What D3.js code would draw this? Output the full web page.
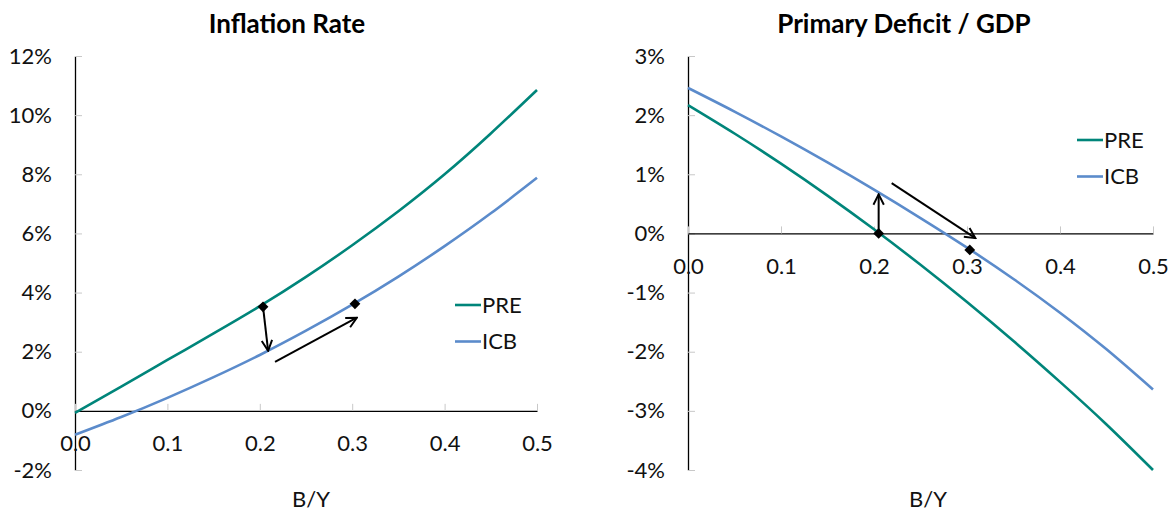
<!DOCTYPE html>
<html>
<head>
<meta charset="utf-8">
<script src="https://cdn.jsdelivr.net/npm/d3@7"></script>
<style>
  html, body { margin: 0; padding: 0; background: #fff; }
  svg { display: block; font-family: Lato, "Open Sans", sans-serif; }
</style>
</head>
<body>
<svg id="chart" width="1171" height="513"></svg>
<script>
// ---------- data ----------
const xValues = [0, 0.05, 0.1, 0.15, 0.2, 0.25, 0.3, 0.35, 0.4, 0.45, 0.5];
const seriesNames = ["PRE", "ICB"];
// Inflation rate (%)
const inflationPRE = [-0.07, 0.82, 1.72, 2.62, 3.54, 4.53, 5.6, 6.75, 8.0, 9.38, 10.85];
const inflationICB = [-0.81, -0.21, 0.44, 1.14, 1.89, 2.71, 3.59, 4.54, 5.57, 6.68, 7.88];
// Primary deficit / GDP (%)
const deficitPRE = [2.17, 1.69, 1.18, 0.64, 0.07, -0.53, -1.16, -1.82, -2.51, -3.23, -4.0];
const deficitICB = [2.46, 2.06, 1.64, 1.2, 0.74, 0.26, -0.24, -0.77, -1.34, -1.96, -2.64];
const xTicks = [0, 0.1, 0.2, 0.3, 0.4, 0.5];
const inflationTicks = [-2, 0, 2, 4, 6, 8, 10, 12];
const deficitTicks = [-4, -3, -2, -1, 0, 1, 2, 3];
// Markers [x, y]
const inflationMarkers = [[0.2035, 3.52], [0.303, 3.62]];
const deficitMarkers = [[0.205, 0.0], [0.303, -0.28]];
// Arrows [[x1,y1],[x2,y2]]
const inflationArrows = [[[0.2035, 3.52], [0.209, 2.03]], [[0.2165, 1.66], [0.305, 3.15]]];
const deficitArrows = [[[0.205, 0.0], [0.205, 0.66]], [[0.219, 0.85], [0.309, -0.08]]];
const titles = ["Inflation Rate", "Primary Deficit / GDP"];
const xLabel = "B/Y";

const colors = { PRE: "#00857A", ICB: "#5B8BCB" };

const svg = d3.select("#chart");

function drawPanel(cfg) {
  const x = d3.scaleLinear().domain([0, 0.5]).range([cfg.left, cfg.right]);
  const y = d3.scaleLinear().domain(cfg.yDomain).range([cfg.bottom, cfg.top]);
  const g = svg.append("g");

  // y axis
  const ya = g.append("g")
    .attr("transform", `translate(${cfg.left},0)`)
    .call(d3.axisLeft(y).tickValues(cfg.yTicks).tickSize(-7).tickSizeOuter(0)
      .tickPadding(23).tickFormat(d => `${d}%`));
  ya.select(".domain").attr("stroke", "#000").attr("stroke-width", 1.3);
  ya.selectAll(".tick line").attr("stroke", "#c8c8c8");
  ya.selectAll(".tick text").attr("font-size", 22).attr("fill", "#111")
    .attr("font-family", "Lato, sans-serif");

  // x axis at y=0
  const xa = g.append("g")
    .attr("transform", `translate(0,${y(0)})`)
    .call(d3.axisBottom(x).tickValues(xTicks).tickSize(-7).tickSizeOuter(0)
      .tickPadding(25).tickFormat(d3.format(".1f")));
  xa.select(".domain").attr("stroke", "#000").attr("stroke-width", 1.3);
  xa.selectAll(".tick line").attr("stroke", "#c8c8c8");
  xa.selectAll(".tick text").attr("font-size", 22).attr("fill", "#111")
    .attr("font-family", "Lato, sans-serif");

  // lines
  const line = d3.line().x((d, i) => x(xValues[i])).y(d => y(d)).curve(d3.curveNatural);
  cfg.series.forEach((s, k) => {
    g.append("path").attr("d", line(s)).attr("fill", "none")
      .attr("stroke", colors[seriesNames[k]]).attr("stroke-width", 2.6);
  });

  // arrows
  const defsId = "arrow" + cfg.id;
  svg.append("defs").append("marker")
    .attr("id", defsId).attr("viewBox", "0 0 10 10").attr("refX", 9).attr("refY", 5)
    .attr("markerWidth", 6.5).attr("markerHeight", 6.5).attr("orient", "auto")
    .attr("markerUnits", "strokeWidth")
    .append("path").attr("d", "M1,1 L9,5 L1,9").attr("fill", "none")
    .attr("stroke", "#000").attr("stroke-width", 1.5);
  cfg.arrows.forEach(a => {
    g.append("line")
      .attr("x1", x(a[0][0])).attr("y1", y(a[0][1]))
      .attr("x2", x(a[1][0])).attr("y2", y(a[1][1]))
      .attr("stroke", "#000").attr("stroke-width", 2)
      .attr("marker-end", `url(#${defsId})`);
  });

  // markers
  cfg.markers.forEach(m => {
    g.append("path").attr("d", d3.symbol(d3.symbolSquare, 58)())
      .attr("transform", `translate(${x(m[0])},${y(m[1])}) rotate(45)`)
      .attr("fill", "#000");
  });

  // legend
  seriesNames.forEach((n, k) => {
    const ly = cfg.legendY + k * 36.5;
    g.append("line").attr("x1", cfg.legendX).attr("x2", cfg.legendX + 26)
      .attr("y1", ly).attr("y2", ly).attr("stroke", colors[n]).attr("stroke-width", 2.6);
    g.append("text").attr("x", cfg.legendX + 27).attr("y", ly).attr("dy", "0.36em")
      .attr("font-size", 22).attr("fill", "#111").text(n);
  });

  // title
  g.append("text").attr("x", cfg.titleX).attr("y", 33).attr("text-anchor", "middle")
    .attr("font-size", 26).attr("font-weight", "bold").attr("fill", "#000").text(cfg.title);
  // x label
  g.append("text").attr("x", cfg.xLabelX).attr("y", 507).attr("text-anchor", "middle")
    .attr("font-size", 22).attr("fill", "#111").text(xLabel);
}

drawPanel({
  id: 1, left: 75, right: 537, top: 56, bottom: 470,
  yDomain: [-2, 12], yTicks: inflationTicks,
  series: [inflationPRE, inflationICB],
  markers: inflationMarkers, arrows: inflationArrows,
  legendX: 455, legendY: 305, title: titles[0], titleX: 287, xLabelX: 311
});
drawPanel({
  id: 2, left: 688, right: 1153, top: 56, bottom: 470,
  yDomain: [-4, 3], yTicks: deficitTicks,
  series: [deficitPRE, deficitICB],
  markers: deficitMarkers, arrows: deficitArrows,
  legendX: 1077, legendY: 140, title: titles[1], titleX: 904, xLabelX: 928
});
</script>
</body>
</html>
